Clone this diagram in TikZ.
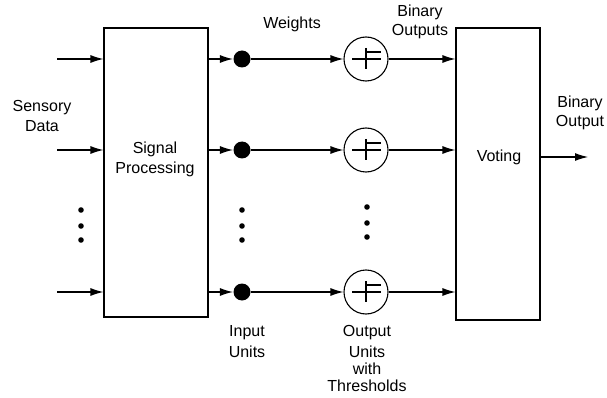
\documentclass[tikz,border=0pt]{standalone}
\usepackage{fontspec}
\setmainfont{Liberation Sans}
\usetikzlibrary{arrows.meta}

\begin{document}
\begin{tikzpicture}[x=1pt,y=-1pt,line width=1.1pt,
  arr/.style={-{Latex[length=13pt,width=8pt]}},
  lbl/.style={align=center,inner sep=0pt,font=\fontsize{16}{20}\selectfont},
  unit/.style={draw,circle,minimum size=44pt,inner sep=0pt},
  inp/.style={fill,circle,minimum size=17pt,inner sep=0pt}]
\useasboundingbox (0,0) rectangle (607,398);
% blocks
\node[draw,minimum width=104pt,minimum height=289pt] (sp) at (156,172.5) {};
\node[draw,minimum width=84pt,minimum height=292pt] (vt) at (498,174) {};
\node[lbl] (sptext) at (155,159) {Signal\\Processing};
\node[lbl] (vttext) at (499,157) {Voting};
% rows of units
\foreach \r/\y in {1/59,2/150,3/292} {
  \coordinate (s\r) at (57,\y);
  \node[inp] (i\r) at (242,\y) {};
  \node[unit] (o\r) at (366,\y) {};
  \draw[arr] (s\r) -- (s\r -| sp.west);
  \draw[arr] (sp.east |- i\r) -- (i\r);
  \draw[arr] (i\r) -- (o\r);
  \draw[arr] (o\r) -- (o\r -| vt.west);
  % threshold step
  \draw ([xshift=-14pt]o\r.center) -- ([xshift=15pt]o\r.center);
  \draw ([yshift=11pt]o\r.center) -- ([yshift=-10pt]o\r.center);
  \draw ([yshift=7pt]o\r.center) -- ([xshift=15pt,yshift=7pt]o\r.center);
}
\coordinate (out) at (588,157);
\draw[arr] (vt.east |- out) -- (out);
% ellipsis dots
\foreach \x/\d in {81/0,242/0,367/-3}
  \foreach \y in {210,226,240}
    \fill (\x,\y+\d) circle (2.8pt);
% labels
\node[lbl] (wt) at (292,24) {Weights};
\node[lbl,font=\fontsize{16}{19}\selectfont] (bo) at (420,22) {Binary\\Outputs};
\node[lbl] (sd) at (42,116) {Sensory\\Data};
\node[lbl,font=\fontsize{16}{19}\selectfont] (bout) at (580,113) {Binary\\Output};
\node[lbl,anchor=north,font=\fontsize{16}{21}\selectfont] (iu) at (247,325) {Input\\Units};
\node[lbl,anchor=north,font=\fontsize{16}{17}\selectfont] (ou) at (367,325) {Output\\[4pt]Units\\with\\Thresholds};
\end{tikzpicture}
\end{document}
